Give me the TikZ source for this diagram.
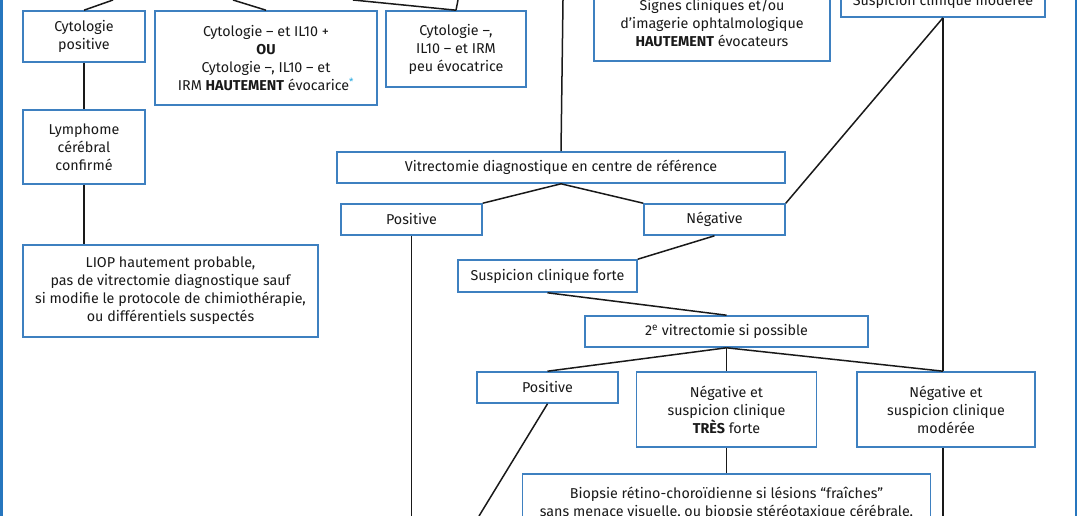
\documentclass[tikz,border=0pt]{standalone}
\usepackage{fontspec}
\setmainfont{Fira Sans}
\usepackage{tikz}
\usetikzlibrary{positioning}
\definecolor{boxblue}{RGB}{62,128,192}
\definecolor{frameblue}{RGB}{38,118,190}
\definecolor{starblue}{RGB}{40,170,225}
\definecolor{ink}{RGB}{25,25,25}

\begin{document}
\begin{tikzpicture}[x=1pt, y=-1pt, node distance=2cm, auto]
    \tikzstyle{block} = [rectangle, draw=boxblue, line width=1.6pt, fill=white, text=ink, align=center, inner sep=0pt, font=\fontsize{14.3}{18}\selectfont]
    \tikzstyle{line} = [draw, ink, line width=1.5pt]
    \tikzstyle{frame} = [draw=frameblue, line width=2.6pt]

    \useasboundingbox (0,0) rectangle (1078,516);
    \clip (0,0) rectangle (1078,516);

    \coordinate (top1) at (113,0);
    \coordinate (top2) at (233,0);
    \coordinate (top3) at (353,0);
    \coordinate (top4) at (458,0);
    \coordinate (top5) at (563,0);
    \coordinate (bot) at (0,516);
    \coordinate (bot2) at (479,516);

    \node [block, minimum width=122pt, minimum height=51pt] (cytpos) at (84,36.5) {Cytologie\\positive};
    \node [block, minimum width=222pt, minimum height=94pt] (cytil) at (266,58) {Cytologie -- et IL10 +\\\textbf{OU}\\Cytologie --, IL10 -- et\\IRM \textbf{HAUTEMENT} évocarice\textsuperscript{\color{starblue}*}};
    \node [block, minimum width=140pt, minimum height=76pt] (cytneg) at (456,49) {Cytologie --,\\IL10 -- et IRM\\peu évocatrice};
    \node [block, minimum width=236pt, minimum height=77pt] (signes) at (712,22.5) {Signes cliniques et/ou\\d’imagerie ophtalmologique\\\textbf{HAUTEMENT} évocateurs};
    \node [block, minimum width=204pt, minimum height=31pt] (susmod) at (943,1.5) {Suspicion clinique modérée};
    \node [block, minimum width=122pt, minimum height=74pt, below of=cytpos, node distance=110.5pt] (lymph) {Lymphome\\cérébral\\confirmé};
    \node [block, minimum width=295pt, minimum height=92pt] (liop) at (170.5,291) {LIOP hautement probable,\\pas de vitrectomie diagnostique sauf\\si modifie le protocole de chimiothérapie,\\ou différentiels suspectés};
    \node [block, minimum width=448pt, minimum height=31pt] (vitdiag) at (561,167.5) {Vitrectomie diagnostique en centre de référence};
    \node [block, minimum width=141pt, minimum height=31pt] (vitpos) at (411.5,219.5) {Positive};
    \node [block, minimum width=141pt, minimum height=31pt, right of=vitpos, node distance=303pt] (vitneg) {Négative};
    \node [block, minimum width=179pt, minimum height=32pt] (susforte) at (547.5,276) {Suspicion clinique forte};
    \node [block, minimum width=283pt, minimum height=31pt] (vit2) at (726.5,331.5) {2\textsuperscript{e} vitrectomie si possible};
    \node [block, minimum width=141pt, minimum height=31pt] (pos2) at (547.5,387.5) {Positive};
    \node [block, minimum width=180pt, minimum height=75pt, below of=vit2, node distance=78pt] (tresforte) {Négative et\\suspicion clinique\\\textbf{TRÈS} forte};
    \node [block, minimum width=178pt, minimum height=75pt, right of=tresforte, node distance=219.5pt] (modere2) {Négative et\\suspicion clinique\\modérée};
    \node [block, minimum width=408pt, inner ysep=13pt, below of=tresforte, node distance=63.5pt, anchor=north] (biopsie) {Biopsie rétino-choroïdienne si lésions “fraîches”\\sans menace visuelle, ou biopsie stéréotaxique cérébrale,};

    \coordinate (m2top) at (susmod.south |- modere2.north);

    \path [line] (top1) -- (cytpos.north);
    \path [line] (top2) -- (cytil.north);
    \path [line] (top3) -- (cytneg.north);
    \path [line] (top4) -- (cytneg.north);
    \path [line] (cytpos) -- (lymph);
    \path [line] (lymph.south) -- (lymph.south |- liop.north);
    \path [line] (top5) -- (vitdiag.north);
    \path [line] (vitdiag.south) -- (vitpos.north east);
    \path [line] (vitdiag.south) -- (vitneg.north west);
    \path [line] (susmod.south) -- (vitneg.north east);
    \path [line] (vitneg.south) -- (susforte.north east);
    \path [line] (susforte.south) -- (vit2.north);
    \path [line] (vitpos.south) -- (vitpos.south |- bot);
    \path [line] (vit2.south) -- (pos2.north);
    \path [line] (vit2.south) -- (tresforte.north);
    \path [line] (vit2.south) -- (m2top);
    \path [line] (susmod.south) -- (m2top);
    \path [line] (modere2.south -| m2top) -- (m2top |- bot);
    \path [line] (pos2.south) -- (bot2);
    \path [line] (tresforte) -- (biopsie);

    \draw [frame] (1.5,0) -- (1.5,516);
    \draw [frame] (1076,0) -- (1076,516);
\end{tikzpicture}
\end{document}
